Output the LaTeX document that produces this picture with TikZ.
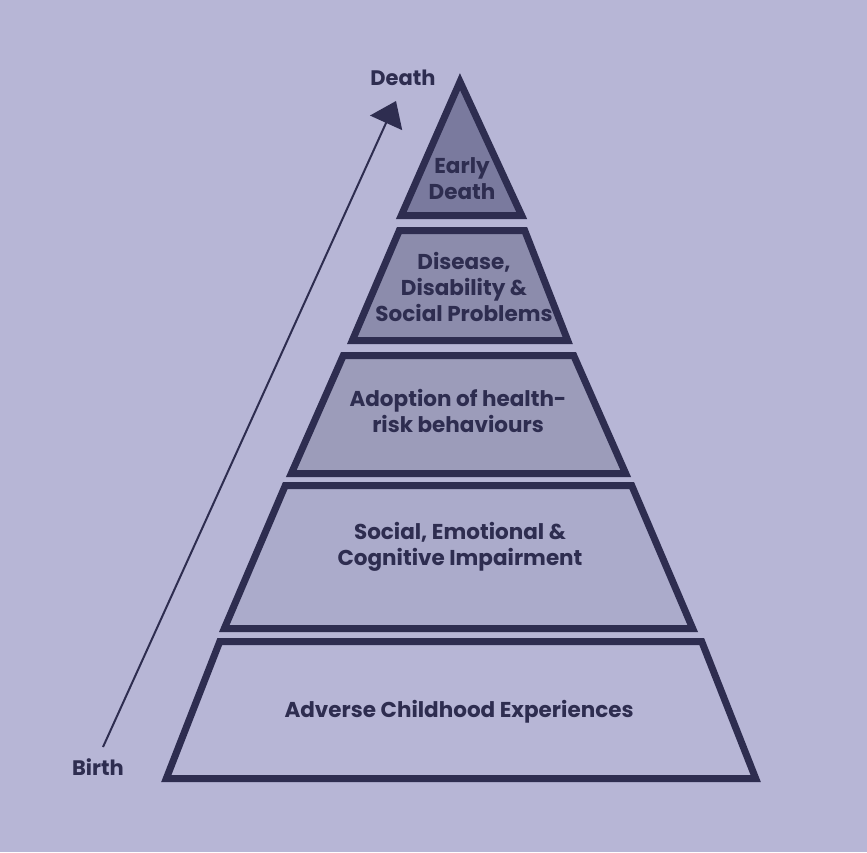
\documentclass[tikz,border=0pt]{standalone}
\usepackage{fontspec}
\setmainfont{Poppins}[BoldFont={Poppins Bold}]
\usetikzlibrary{arrows.meta}
\definecolor{bgc}{HTML}{B7B6D6}
\definecolor{ink}{HTML}{2E2D50}
\definecolor{lvA}{HTML}{7A7A9E}
\definecolor{lvB}{HTML}{8C8CAC}
\definecolor{lvC}{HTML}{9C9CBA}
\definecolor{lvD}{HTML}{ABABCB}
\definecolor{lvE}{HTML}{B7B6D6}
\tikzset{
  tier/.style={draw=ink, line width=7pt, line join=miter},
  lbl/.style={text=ink, font=\bfseries\fontsize{21.5}{26}\selectfont, align=center, inner sep=0pt},
  side/.style={text=ink, font=\bfseries\fontsize{21}{26}\selectfont, inner sep=0pt},
}
\begin{document}
\begin{tikzpicture}[x=1pt,y=-1pt]
\fill[bgc] (0,0) rectangle (867,852);
\useasboundingbox (0,0) rectangle (867,852);
% tiers
\draw[tier, fill=lvA] (460,81.7) -- (521.7,215.5) -- (401.3,215.5) -- cycle;
\draw[tier, fill=lvB] (399.3,230.5) -- (524.7,230.5) -- (567.7,340.5) -- (352.3,340.5) -- cycle;
\draw[tier, fill=lvC] (343.3,355.5) -- (573.7,355.5) -- (625.7,473.5) -- (291.3,473.5) -- cycle;
\draw[tier, fill=lvD] (285.3,485.5) -- (631.7,485.5) -- (692.7,628.5) -- (224.3,628.5) -- cycle;
\draw[tier, fill=lvE] (219.8,641.5) -- (701.7,641.5) -- (755.7,778.5) -- (166.3,778.5) -- cycle;
% labels
\node[lbl] (early) at (462,179) {Early\\Death};
\node[lbl] (disease) at (464,287) {Disease,\\Disability \&\\Social Problems};
\node[lbl] (adoption) at (458,411) {Adoption of health-\\risk behaviours};
\node[lbl] (social) at (460,547) {Social, Emotional \&\\Cognitive Impairment};
\node[lbl] (adverse) at (459,712) {Adverse Childhood Experiences};
\node[side] (death) at (403,78) {Death};
\node[side] (birth) at (98,767) {Birth};
% arrow
\coordinate (birthend) at (103,747);
\coordinate (deathend) at (396,101);
\draw[ink, line width=2pt, -{Triangle[length=24pt,width=35pt]}] (birthend) -- (deathend);
\end{tikzpicture}
\end{document}
